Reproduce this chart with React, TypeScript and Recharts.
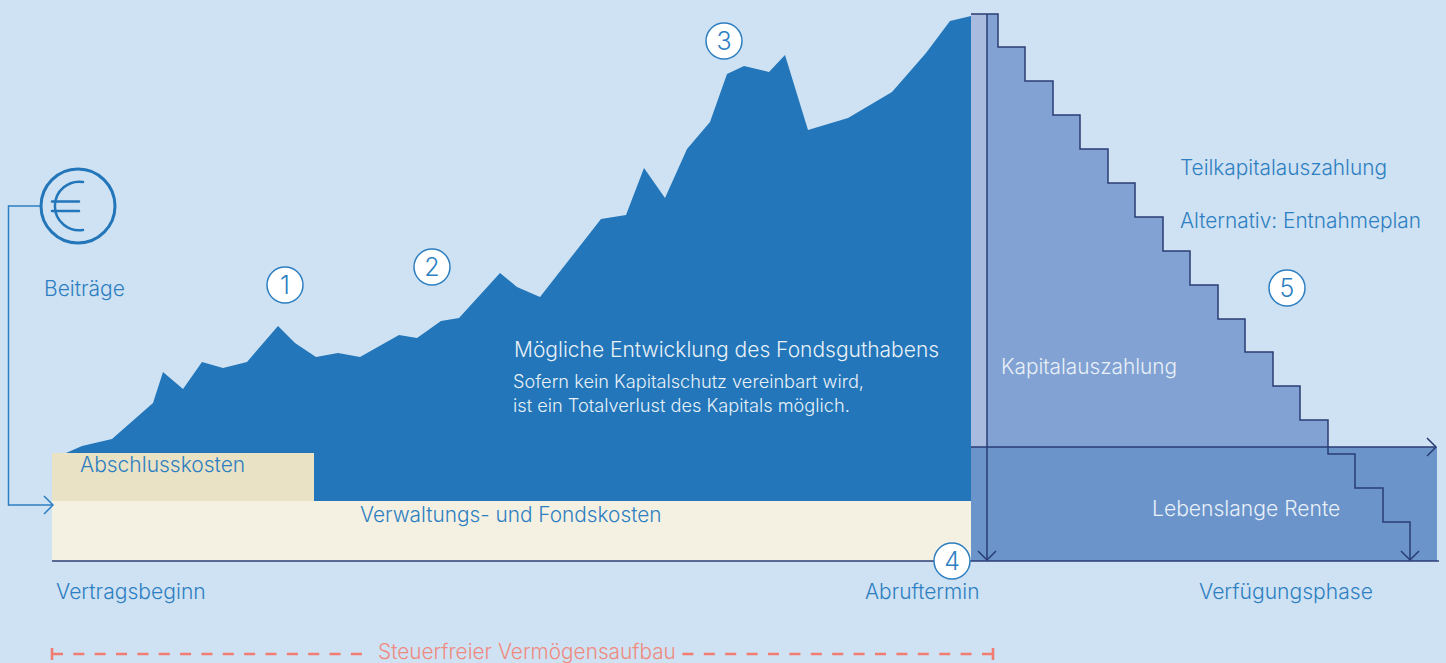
import React from 'react';
import { Area, ComposedChart, Line, ReferenceDot, ReferenceLine, XAxis, YAxis } from 'recharts';

// values are heights above the contract baseline
const fundX = [66, 82, 112, 153, 163, 183, 202, 223, 247, 278, 295, 316, 338, 360, 399, 417, 441, 459, 500, 517, 540, 601, 626, 644, 665, 687, 710, 727, 744, 769, 785, 808, 848, 892, 926, 950, 971];
const fundY = [108, 115, 122, 158, 189, 172, 199, 193, 199, 235, 218, 204, 208, 204, 226, 223, 240, 243, 288, 274, 264, 342, 346, 393, 363, 412, 439, 487, 495, 489, 506, 431, 443, 469, 508, 540, 545];

const payoutX = [971, 998, 1025, 1053, 1080, 1108, 1135, 1163, 1190, 1218, 1245, 1273, 1300, 1328, 1355, 1383, 1410];
const payoutY = [547, 514, 480, 446, 412, 378, 344, 310, 276, 242, 209, 175, 141, 107, 73, 39, 1];

const closingCostX = [52, 314];
const closingCostY = [108, 108];
const adminCostX = [52, 971];
const adminCostY = [60, 60];
const pensionX = [971, 1437];
const pensionY = [114, 114];
const lumpSumX = [971, 987];
const lumpSumY = [547, 547];

const toRows = (xs: number[], ys: number[]) => xs.map((x, i) => ({ x, v: ys[i] }));

const fundData = toRows(fundX, fundY);
const payoutData = toRows(payoutX, payoutY);
const payoutFillData = [...toRows(payoutX.slice(0, 13), payoutY.slice(0, 13)), { x: 1328, v: 114 }];

const BLUE = '#2e7fc1';
const DARK = '#2a3c74';
const SALMON = '#f07c72';
const LIGHT = '#e8f0f8';
const FONT = 'Inter, sans-serif';

const note = (text: string, x: number, v: number, size: number, color: string) => (
  <ReferenceDot
    key={text}
    x={x}
    y={v}
    r={1}
    shape={(p: any) => (
      <text x={p.cx} y={p.cy} fontFamily={FONT} fontWeight={300} fontSize={size} fill={color}>
        {text}
      </text>
    )}
  />
);

const badge = (text: string, x: number, v: number) => (
  <ReferenceDot
    key={text}
    x={x}
    y={v}
    r={18}
    shape={(p: any) => (
      <g>
        <circle cx={p.cx} cy={p.cy} r={18} fill="#ffffff" stroke={BLUE} strokeWidth={1.5} />
        <text x={p.cx} y={p.cy + 9} textAnchor="middle" fontFamily={FONT} fontWeight={300} fontSize={25} fill={BLUE}>
          {text}
        </text>
      </g>
    )}
  />
);

const chevron = (x: number, v: number, dir: 'right' | 'down', color: string) => (
  <ReferenceDot
    key={`${x}-${v}`}
    x={x}
    y={v}
    r={1}
    shape={(p: any) => (
      <path
        d={
          dir === 'right'
            ? `M${p.cx - 9} ${p.cy - 9}L${p.cx} ${p.cy}L${p.cx - 9} ${p.cy + 9}`
            : `M${p.cx - 9} ${p.cy - 9}L${p.cx} ${p.cy}L${p.cx + 9} ${p.cy - 9}`
        }
        fill="none"
        stroke={color}
        strokeWidth={1.5}
      />
    )}
  />
);

const App = () => {
  return (
    <div style={{ position: 'absolute', left: 0, top: 0, width: 1446, height: 663, background: '#cfe2f3', overflow: 'hidden' }}>
      <ComposedChart width={1446} height={663} margin={{ top: 0, right: 0, bottom: 0, left: 0 }}>
        <XAxis dataKey="x" type="number" domain={[0, 1446]} allowDataOverflow hide />
        <YAxis dataKey="v" type="number" domain={[-102, 561]} allowDataOverflow hide width={0} />

        <Area data={fundData} dataKey="v" type="linear" baseValue={60} fill="#2276b9" fillOpacity={1} stroke="none" dot={false} activeDot={false} isAnimationActive={false} />
        <Area data={toRows(closingCostX, closingCostY)} dataKey="v" baseValue={60} fill="#e9e2c5" fillOpacity={1} stroke="none" dot={false} activeDot={false} isAnimationActive={false} />
        <Area data={toRows(adminCostX, adminCostY)} dataKey="v" baseValue={0} fill="#f4f1e3" fillOpacity={1} stroke="none" dot={false} activeDot={false} isAnimationActive={false} />
        <Area data={toRows(pensionX, pensionY)} dataKey="v" baseValue={0} fill="#6b94cb" fillOpacity={1} stroke="none" dot={false} activeDot={false} isAnimationActive={false} />
        <Area data={payoutFillData} dataKey="v" type="stepAfter" baseValue={114} fill="#81a2d2" fillOpacity={1} stroke="none" dot={false} activeDot={false} isAnimationActive={false} />
        <Area data={toRows(lumpSumX, lumpSumY)} dataKey="v" baseValue={114} fill="#a9bbdf" fillOpacity={1} stroke="none" dot={false} activeDot={false} isAnimationActive={false} />

        <Line data={payoutData} dataKey="v" type="stepAfter" stroke={DARK} strokeWidth={1.5} dot={false} activeDot={false} isAnimationActive={false} />

        <ReferenceLine segment={[{ x: 40, y: 355 }, { x: 8.5, y: 355 }]} stroke={BLUE} strokeWidth={1.5} />
        <ReferenceLine segment={[{ x: 8.5, y: 355.7 }, { x: 8.5, y: 55.3 }]} stroke={BLUE} strokeWidth={1.5} />
        <ReferenceLine segment={[{ x: 8.5, y: 56 }, { x: 52, y: 56 }]} stroke={BLUE} strokeWidth={1.5} />

        <ReferenceLine segment={[{ x: 52, y: 0 }, { x: 1439, y: 0 }]} stroke={DARK} strokeWidth={1.5} />
        <ReferenceLine segment={[{ x: 971, y: 114 }, { x: 1436, y: 114 }]} stroke={DARK} strokeWidth={1.5} />
        <ReferenceLine segment={[{ x: 987, y: 547 }, { x: 987, y: 1 }]} stroke={DARK} strokeWidth={1.5} />

        <ReferenceLine segment={[{ x: 52, y: -93 }, { x: 362, y: -93 }]} stroke={SALMON} strokeWidth={2.6} strokeDasharray="11 10.35" />
        <ReferenceLine segment={[{ x: 993, y: -93 }, { x: 680, y: -93 }]} stroke={SALMON} strokeWidth={2.6} strokeDasharray="11 10.4" />
        <ReferenceLine segment={[{ x: 52, y: -87 }, { x: 52, y: -99 }]} stroke={SALMON} strokeWidth={2.6} />
        <ReferenceLine segment={[{ x: 993, y: -87 }, { x: 993, y: -99 }]} stroke={SALMON} strokeWidth={2.6} />

        {chevron(1436, 114, 'right', DARK)}
        {chevron(1410, 1, 'down', DARK)}
        {chevron(987, 1, 'down', DARK)}
        {chevron(53, 56, 'right', BLUE)}

        <ReferenceDot
          x={78}
          y={355}
          r={37}
          shape={(p: any) => (
            <g fill="none" stroke="#2276b9">
              <circle cx={p.cx} cy={p.cy} r={37} strokeWidth={3} />
              <path d={`M${p.cx + 5} ${p.cy - 24}A24.3 24.3 0 1 0 ${p.cx + 5} ${p.cy + 24}`} strokeWidth={2.5} strokeLinecap="round" />
              <path d={`M${p.cx - 26} ${p.cy - 4.5}H${p.cx + 1}M${p.cx - 26} ${p.cy + 5}H${p.cx + 1}`} strokeWidth={2.5} strokeLinecap="round" />
            </g>
          )}
        />

        {badge('1', 285, 276)}
        {badge('2', 432, 294)}
        {badge('3', 724, 520)}
        {badge('4', 952, 0)}
        {badge('5', 1287, 273)}

        {note('Beiträge', 44, 265, 21, BLUE)}
        {note('Teilkapitalauszahlung', 1180, 386, 20.8, BLUE)}
        {note('Alternativ: Entnahmeplan', 1180, 333, 20.8, BLUE)}
        {note('Kapitalauszahlung', 1001, 187, 20.8, LIGHT)}
        {note('Lebenslange Rente', 1152, 45, 21.1, LIGHT)}
        {note('Mögliche Entwicklung des Fondsguthabens', 514, 204, 21, LIGHT)}
        {note('Sofern kein Kapitalschutz vereinbart wird,', 513, 173, 18.2, LIGHT)}
        {note('ist ein Totalverlust des Kapitals möglich.', 513, 149, 18.2, LIGHT)}
        {note('Abschlusskosten', 80, 89, 21, BLUE)}
        {note('Verwaltungs- und Fondskosten', 360, 39, 20.8, BLUE)}
        {note('Vertragsbeginn', 56, -38, 21.1, BLUE)}
        {note('Abruftermin', 865, -38, 20.9, BLUE)}
        {note('Verfügungsphase', 1199, -38, 21.1, BLUE)}
        {note('Steuerfreier Vermögensaufbau', 378, -97.5, 20.8, '#ef8a80')}
      </ComposedChart>
    </div>
  );
};

export default App;
